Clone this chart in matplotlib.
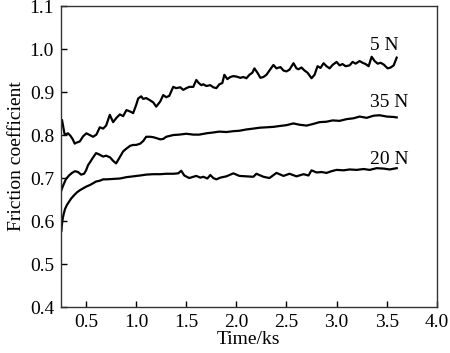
import matplotlib
matplotlib.use("Agg")
import matplotlib.pyplot as plt

# 5 N
x5 = [0.254, 0.26, 0.27, 0.287, 0.30, 0.32, 0.345, 0.367, 0.387, 0.40, 0.437, 0.47, 0.503, 0.537, 0.57, 0.603, 0.637, 0.67, 0.70, 0.737, 0.77, 0.803, 0.837, 0.87, 0.903, 0.937, 0.97, 1.00, 1.02, 1.05, 1.07, 1.10, 1.13, 1.17, 1.20, 1.24, 1.27, 1.30, 1.33, 1.37, 1.40, 1.44, 1.47, 1.50, 1.53, 1.57, 1.60, 1.62, 1.65, 1.67, 1.70, 1.74, 1.77, 1.80, 1.83, 1.86, 1.88, 1.91, 1.94, 1.97, 2.00, 2.04, 2.07, 2.10, 2.13, 2.16, 2.18, 2.21, 2.24, 2.27, 2.30, 2.33, 2.37, 2.40, 2.44, 2.47, 2.50, 2.53, 2.57, 2.60, 2.62, 2.65, 2.68, 2.71, 2.75, 2.78, 2.81, 2.84, 2.87, 2.90, 2.93, 2.96, 3.00, 3.03, 3.06, 3.09, 3.13, 3.16, 3.19, 3.23, 3.26, 3.29, 3.32, 3.35, 3.38, 3.41, 3.44, 3.47, 3.51, 3.54, 3.57, 3.60]
y5 = [0.831, 0.835, 0.822, 0.800, 0.802, 0.804, 0.798, 0.790, 0.780, 0.782, 0.785, 0.797, 0.804, 0.800, 0.796, 0.801, 0.818, 0.815, 0.822, 0.847, 0.830, 0.840, 0.848, 0.844, 0.858, 0.855, 0.851, 0.870, 0.885, 0.890, 0.884, 0.886, 0.882, 0.876, 0.866, 0.878, 0.893, 0.888, 0.891, 0.912, 0.909, 0.911, 0.905, 0.909, 0.912, 0.912, 0.928, 0.922, 0.916, 0.918, 0.914, 0.916, 0.911, 0.909, 0.918, 0.921, 0.940, 0.930, 0.935, 0.937, 0.936, 0.933, 0.935, 0.932, 0.940, 0.945, 0.955, 0.945, 0.933, 0.935, 0.940, 0.950, 0.963, 0.955, 0.958, 0.950, 0.948, 0.952, 0.967, 0.955, 0.953, 0.957, 0.950, 0.945, 0.932, 0.940, 0.960, 0.956, 0.967, 0.960, 0.955, 0.963, 0.970, 0.962, 0.965, 0.960, 0.962, 0.970, 0.966, 0.972, 0.968, 0.965, 0.960, 0.982, 0.972, 0.966, 0.968, 0.964, 0.955, 0.957, 0.962, 0.980]

# 35 N
x35 = [0.254, 0.27, 0.30, 0.33, 0.36, 0.39, 0.42, 0.45, 0.48, 0.50, 0.52, 0.54, 0.57, 0.60, 0.63, 0.67, 0.70, 0.74, 0.77, 0.80, 0.84, 0.87, 0.90, 0.94, 0.97, 1.00, 1.04, 1.07, 1.10, 1.14, 1.17, 1.20, 1.24, 1.27, 1.30, 1.37, 1.43, 1.50, 1.57, 1.63, 1.70, 1.77, 1.83, 1.90, 1.97, 2.03, 2.10, 2.17, 2.23, 2.30, 2.37, 2.43, 2.50, 2.57, 2.63, 2.70, 2.77, 2.83, 2.90, 2.96, 3.03, 3.10, 3.17, 3.23, 3.30, 3.37, 3.43, 3.50, 3.57, 3.60]
y35 = [0.672, 0.682, 0.698, 0.706, 0.712, 0.716, 0.714, 0.708, 0.710, 0.718, 0.730, 0.737, 0.748, 0.758, 0.755, 0.750, 0.752, 0.748, 0.740, 0.734, 0.750, 0.762, 0.768, 0.775, 0.777, 0.777, 0.780, 0.786, 0.796, 0.796, 0.795, 0.793, 0.790, 0.791, 0.796, 0.800, 0.801, 0.803, 0.801, 0.801, 0.804, 0.806, 0.808, 0.807, 0.809, 0.810, 0.813, 0.815, 0.817, 0.818, 0.819, 0.821, 0.823, 0.827, 0.824, 0.822, 0.826, 0.830, 0.831, 0.834, 0.833, 0.837, 0.839, 0.843, 0.840, 0.845, 0.846, 0.843, 0.842, 0.841]

# 20 N
x20 = [0.254, 0.258, 0.265, 0.275, 0.29, 0.31, 0.33, 0.35, 0.38, 0.41, 0.44, 0.47, 0.50, 0.54, 0.57, 0.60, 0.64, 0.67, 0.70, 0.77, 0.84, 0.90, 0.97, 1.04, 1.10, 1.17, 1.24, 1.30, 1.37, 1.42, 1.45, 1.48, 1.53, 1.57, 1.60, 1.64, 1.67, 1.71, 1.74, 1.77, 1.80, 1.84, 1.90, 1.97, 2.03, 2.10, 2.17, 2.20, 2.27, 2.33, 2.40, 2.47, 2.53, 2.60, 2.67, 2.72, 2.75, 2.80, 2.85, 2.90, 2.95, 3.00, 3.07, 3.13, 3.20, 3.27, 3.33, 3.40, 3.47, 3.53, 3.60]
y20 = [0.578, 0.590, 0.603, 0.615, 0.628, 0.638, 0.645, 0.652, 0.660, 0.667, 0.672, 0.676, 0.680, 0.684, 0.688, 0.692, 0.694, 0.697, 0.697, 0.698, 0.699, 0.702, 0.704, 0.706, 0.708, 0.709, 0.709, 0.710, 0.710, 0.711, 0.717, 0.706, 0.700, 0.703, 0.705, 0.701, 0.703, 0.699, 0.707, 0.700, 0.697, 0.701, 0.704, 0.711, 0.705, 0.704, 0.703, 0.710, 0.703, 0.700, 0.712, 0.705, 0.710, 0.704, 0.709, 0.706, 0.718, 0.713, 0.714, 0.712, 0.716, 0.719, 0.718, 0.720, 0.719, 0.721, 0.719, 0.723, 0.722, 0.720, 0.723]

labels = ["5 N", "35 N", "20 N"]
label_x = [3.48, 3.53, 3.53]
label_y = [0.998, 0.865, 0.733]

xticks = [0.5, 1.0, 1.5, 2.0, 2.5, 3.0, 3.5, 4.0]
yticks = [0.4, 0.5, 0.6, 0.7, 0.8, 0.9, 1.0, 1.1]

plt.rcParams['font.family'] = ['Liberation Serif', 'DejaVu Serif']

fig = plt.figure(figsize=(4.5, 3.53), dpi=100)
ax = fig.add_axes([0.1356, 0.130, 0.835, 0.853])

for xs, ys in [(x5, y5), (x35, y35), (x20, y20)]:
    ax.plot(xs, ys, color='black', lw=1.6, solid_joinstyle='round')

for t, lx, ly in zip(labels, label_x, label_y):
    ax.text(lx, ly, t, fontsize=14, ha='center', va='baseline')

ax.set_xlim(0.25, 4.0)
ax.set_ylim(0.4, 1.1)
ax.set_xticks(xticks)
ax.set_yticks(yticks)
ax.set_xticklabels([f"{v:.1f}" for v in xticks])
ax.set_yticklabels([f"{v:.1f}" for v in yticks])
ax.tick_params(direction='in', length=4, width=1, labelsize=14, colors='black', pad=5)
for s in ax.spines.values():
    s.set_linewidth(1.0)
    s.set_color('#333333')
ax.set_xlabel("Time/ks", fontsize=14, labelpad=0)
ax.set_ylabel("Friction coefficient", fontsize=14, labelpad=3)

fig.savefig("out.png", dpi=100)
